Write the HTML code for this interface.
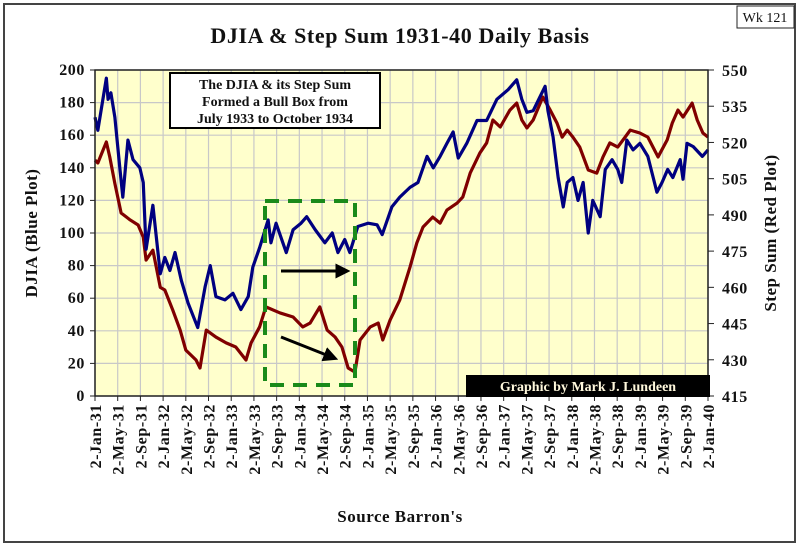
<!DOCTYPE html>
<html><head><meta charset="utf-8"><style>
body{margin:0;background:#fff;}
svg{display:block;font-family:"Liberation Serif",serif;font-weight:bold;}
</style></head><body>
<svg id="c" width="800" height="547" xmlns="http://www.w3.org/2000/svg">
<rect x="4" y="4" width="791" height="538" fill="#fff" stroke="#444" stroke-width="2"/>
<text x="400" y="43" text-anchor="middle" font-size="22" letter-spacing="0.6" fill="#111">DJIA &amp; Step Sum 1931-40 Daily Basis</text>
<rect x="737" y="6" width="57" height="22" fill="#fff" stroke="#222"/>
<text x="765" y="22" text-anchor="middle" font-size="14" font-weight="normal" fill="#111">Wk 121</text>
<rect x="95" y="70" width="613" height="326" fill="#ffffcc"/>
<g id="grid"></g>
<g id="series"></g>
<rect x="95" y="70" width="613" height="326" fill="none" stroke="#222" stroke-width="1.5"/>
<g id="axes"></g>
<rect x="265" y="201" width="90" height="184" fill="none" stroke="#1a8a1a" stroke-width="4" stroke-dasharray="14,9"/>
<defs><marker id="ah" markerWidth="5" markerHeight="5" refX="3.5" refY="2.5" orient="auto"><path d="M0,0 L5,2.5 L0,5 z" fill="#000"/></marker></defs>
<line x1="281" y1="271" x2="346" y2="271" stroke="#000" stroke-width="3" marker-end="url(#ah)"/>
<line x1="281" y1="337" x2="334" y2="358" stroke="#000" stroke-width="3" marker-end="url(#ah)"/>
<rect x="170" y="73" width="210" height="55" fill="#fff" stroke="#000" stroke-width="2"/>
<text font-size="14" fill="#111" text-anchor="middle"><tspan x="275" y="89">The DJIA &amp; its Step Sum</tspan><tspan x="275" y="106">Formed a Bull Box from</tspan><tspan x="275" y="123">July 1933 to October 1934</tspan></text>
<rect x="466" y="375" width="244" height="22" fill="#000"/>
<text x="588" y="391" text-anchor="middle" font-size="14" fill="#fff8dc">Graphic by Mark J. Lundeen</text>
<text transform="translate(37,233) rotate(-90)" text-anchor="middle" font-size="17" letter-spacing="0.5" fill="#111">DJIA (Blue Plot)</text>
<text transform="translate(776,233) rotate(-90)" text-anchor="middle" font-size="17" letter-spacing="0.5" fill="#111">Step Sum (Red Plot)</text>
<text x="400" y="522" text-anchor="middle" font-size="17" letter-spacing="0.5" fill="#111">Source Barron's</text>
</svg>
<script>
const xTickLabels=["2-Jan-31","2-May-31","2-Sep-31","2-Jan-32","2-May-32","2-Sep-32","2-Jan-33","2-May-33","2-Sep-33","2-Jan-34","2-May-34","2-Sep-34","2-Jan-35","2-May-35","2-Sep-35","2-Jan-36","2-May-36","2-Sep-36","2-Jan-37","2-May-37","2-Sep-37","2-Jan-38","2-May-38","2-Sep-38","2-Jan-39","2-May-39","2-Sep-39","2-Jan-40"];
const leftTicks=[0,20,40,60,80,100,120,140,160,180,200];
const rightTicks=[415,430,445,460,475,490,505,520,535,550];
const djiaMonths=[0,0.5,2,2.3,2.8,3.5,4.4,4.9,5.8,6.7,7.9,8.5,9,10.2,11.5,12.3,13.2,14.1,15.2,16.4,18.1,19.4,20.3,21.3,22.9,24.3,25.7,27,27.8,29,30.5,31,31.9,33.7,34.9,36.3,37.3,38.8,40.5,41.8,42.8,44,44.9,46.3,48.1,49.7,50.6,52.3,53.7,55.5,56.9,58.5,59.6,60.8,62,63.1,64,65.5,67.3,69,70.8,72.8,74.3,75.2,76.1,77.2,79.3,79.8,80.7,81.6,82.5,83.2,84.2,85.1,86,86.9,87.7,89,89.9,91.1,92.1,92.8,93.7,94.8,96,97.4,99,99.9,100.9,101.8,103.1,103.6,104.3,105.4,107,108];
const djiaValues=[171,163,195,182,186,171,139,122,157,145,140,131,90,117,75,85,77,88,71,57,42,67,80,61,59,63,53,61,79,91,108,94,106,88,102,106,110,102,94,100,88,96,88,104,106,105,99,116,122,128,131,147,140,147,155,162,146,155,169,169,182,188,194,182,174,175,190,175,159,134,116,131,134,120,131,100,120,110,139,145,139,131,157,151,155,147,125,131,139,134,145,133,155,153,147,151];
const stepMonths=[0,0.5,2,2.6,3.5,4.6,6.2,7.6,8.5,9,10.2,11.5,12.3,13.7,15,16,17.8,18.5,19.6,21.3,23.1,24.8,26.6,27.5,29,30.1,32.6,34.9,36.6,37.9,39.6,40.9,42.3,43.5,44.6,45.8,46.7,48.5,49.9,50.7,52,53.7,55.5,56.7,57.8,59.5,60.8,62,63.8,64.8,66.1,67.8,69,70.1,71.4,73.1,74.3,75.2,76.1,77.2,78.9,80.2,81.4,82.3,83.2,84.2,85.4,86.9,88.4,89.5,90.7,92.1,93.4,94.3,96,97.4,98.3,99.2,100.8,101.7,102.7,103.6,105.2,106.1,107.1,108];
const stepValues=[512.7,511.5,520.2,514,503,490.8,487.9,485.8,480.8,471.3,475.4,460,458.9,450.6,442.3,434,429.9,426.6,442.3,439.4,437,435.3,429.9,437,443.6,451.9,449.4,447.7,443.6,445.2,451.9,442.3,439.4,435.3,426.6,424.9,438.2,443.6,445.2,438.2,446.5,454.8,468.4,478.4,485,489.1,486.6,492,494.9,497.4,507.3,515.6,519.8,529.3,526.4,533.4,536.3,529.3,526,529.3,538.8,533.4,528,522.2,525.1,522.2,518.1,508.6,507.3,514,519.8,518.1,522.2,525.1,523.9,522.2,518.1,514,521,528,533.4,530.5,536.3,529.3,523.9,522.2];
const NS="http://www.w3.org/2000/svg";
const L=95,R=708,T=70,B=396;
const xs=m=>L+m*(R-L)/108;
const yL=v=>B-(v-0)*(B-T)/200;
const yR=v=>B-(v-415)*(B-T)/135;
function mk(tag,attrs,parent){const e=document.createElementNS(NS,tag);for(const k in attrs)e.setAttribute(k,attrs[k]);parent.appendChild(e);return e;}
const grid=document.getElementById('grid'),axes=document.getElementById('axes'),ser=document.getElementById('series');
xTickLabels.forEach((lab,i)=>{
  const x=xs(i*4);
  const g=mk('line',{x1:x,x2:x,y1:T,y2:B,stroke:'#c8c8c8','stroke-width':1.2},grid);
  
  
  const t=mk('line',{x1:x,x2:x,y1:B,y2:B+5,stroke:'#222'},axes);
  
  
  const tx=mk('text',{transform:`translate(${x+6},${B+8}) rotate(-90)`,'text-anchor':'end','font-size':16,'letter-spacing':0.6,fill:'#111'},axes);
  tx.textContent=lab;
  
  
});
leftTicks.forEach(v=>{
  const y=yL(v);
  const g=mk('line',{x1:L,x2:R,y1:y,y2:y,stroke:'#c8c8c8','stroke-width':1.2},grid);
  
  
  const t=mk('line',{x1:L-5,x2:L,y1:y,y2:y,stroke:'#222'},axes);
  
  
  const tx=mk('text',{x:L-10,y:y+5,'text-anchor':'end','font-size':16,'letter-spacing':0.6,fill:'#111'},axes);
  tx.textContent=v;
  
  
});
rightTicks.forEach(v=>{
  const y=yR(v);
  const t=mk('line',{x1:R,x2:R+6,y1:y,y2:y,stroke:'#222'},axes);
  
  
  const tx=mk('text',{x:R+14,y:y+6,'text-anchor':'start','font-size':16,'letter-spacing':0.6,fill:'#111'},axes);
  tx.textContent=v;
  
  
});
const sp=mk('polyline',{points:stepMonths.map((m,i)=>xs(m)+','+yR(stepValues[i])).join(' '),fill:'none',stroke:'#800000','stroke-width':3.2,'stroke-linejoin':'round'},ser);


const dp=mk('polyline',{points:djiaMonths.map((m,i)=>xs(m)+','+yL(djiaValues[i])).join(' '),fill:'none',stroke:'#000080','stroke-width':3.2,'stroke-linejoin':'round'},ser);


</script>
</body></html>
